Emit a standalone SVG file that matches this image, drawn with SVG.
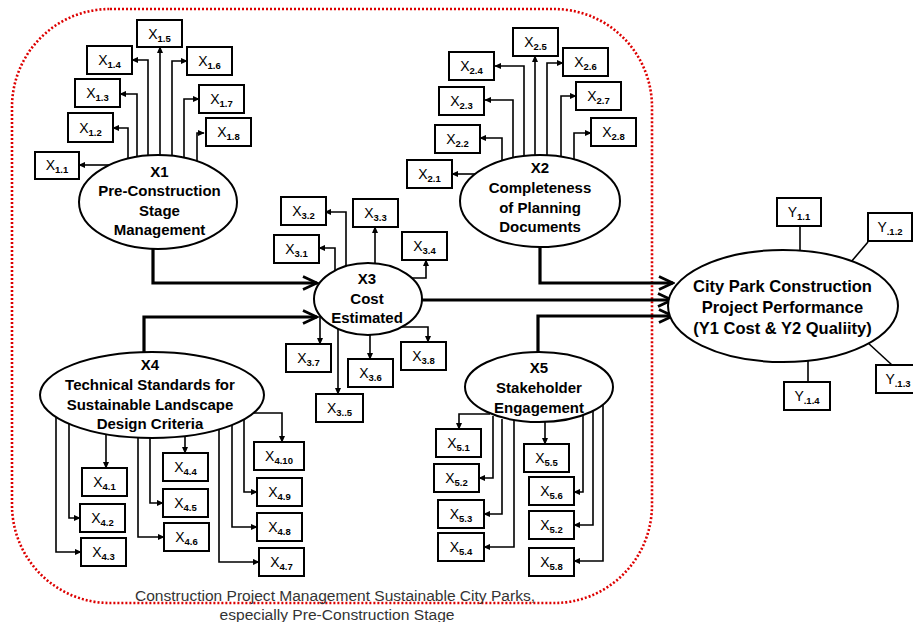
<svg xmlns="http://www.w3.org/2000/svg" width="913" height="622" viewBox="0 0 913 622">
<style>
.box rect{fill:#fff;stroke:#000;stroke-width:2}
.box text{font-family:"Liberation Sans",Arial,sans-serif;font-size:14px;text-anchor:middle;fill:#000}
.sub{font-size:9.5px;font-weight:bold}
.ell ellipse{fill:#fff;stroke:#000;stroke-width:2}
.ell text{font-family:"Liberation Sans",Arial,sans-serif;font-weight:bold;font-size:15px;text-anchor:middle;fill:#000}
.thin{fill:none;stroke:#000;stroke-width:1.6;marker-end:url(#ah)}
.thick{fill:none;stroke:#000;stroke-width:3.2;marker-end:url(#chev)}
.plain{fill:none;stroke:#000;stroke-width:1.6}
.cap{font-family:"Liberation Sans",Arial,sans-serif;font-size:14px;fill:#333;text-anchor:middle}
</style>
<defs>
<marker id="ah" viewBox="0 0 10 10" refX="9" refY="5" markerWidth="7" markerHeight="7" markerUnits="userSpaceOnUse" orient="auto"><path d="M0,0.5 L10,5 L0,9.5 z" fill="#000"/></marker>
<marker id="chev" viewBox="0 0 18 16" refX="16" refY="8" markerWidth="18" markerHeight="16" markerUnits="userSpaceOnUse" orient="auto"><path d="M2,1.5 L16,8 L2,14.5" fill="none" stroke="#000" stroke-width="2.8" stroke-linejoin="miter"/></marker>
</defs>
<rect width="913" height="622" fill="#fff"/>
<rect id="boundary" x="12" y="9" width="640" height="594" rx="98" ry="98" fill="none" stroke="#dd0000" stroke-width="2.6" stroke-dasharray="2 2"/>
<text class="cap" x="335" y="601" textLength="400" lengthAdjust="spacingAndGlyphs">Construction Project Management Sustainable City Parks,</text>
<text class="cap" x="337" y="620" textLength="235" lengthAdjust="spacingAndGlyphs">especially Pre-Construction Stage</text>

<g id="connectors">
<path class="thin" d="M110,165 H79"/>
<path class="thin" d="M128,162 V128 H113"/>
<path class="thin" d="M137,160 V94 H120"/>
<path class="thin" d="M148,158 V60 H132"/>
<path class="thin" d="M160,158 V47"/>
<path class="thin" d="M172,158 V61 H187"/>
<path class="thin" d="M184,160 V99 H199"/>
<path class="thin" d="M197,162 V133 H204"/>

<path class="thin" d="M478,174 H452"/>
<path class="thin" d="M502,162 V138 H480"/>
<path class="thin" d="M513,160 V100 H485"/>
<path class="thin" d="M524,158 V66 H495"/>
<path class="thin" d="M535,158 V56"/>
<path class="thin" d="M547,158 V63 H563"/>
<path class="thin" d="M561,160 V96 H576"/>
<path class="thin" d="M574,162 V133 H591"/>

<path class="thin" d="M335,272 V248 H319"/>
<path class="thin" d="M346,268 V212 H325"/>
<path class="thin" d="M375,266 V227"/>
<path class="thin" d="M410,278 H426 V260"/>
<path class="thin" d="M320,313 V344"/>
<path class="thin" d="M338,327 V394"/>
<path class="thin" d="M370,331 V359"/>
<path class="thin" d="M401,327 H428 V342"/>

<path class="thin" d="M106,432 V468"/>
<path class="thin" d="M69,421 V518 H80"/>
<path class="thin" d="M56,414 V552 H81"/>
<path class="thin" d="M185,434 V453"/>
<path class="thin" d="M150,436 V503 H163"/>
<path class="thin" d="M138,436 V537 H164"/>
<path class="thin" d="M250,413 H282 V442"/>
<path class="thin" d="M244,417 V492 H257"/>
<path class="thin" d="M232,423 V527 H257"/>
<path class="thin" d="M219,427 V562 H259"/>

<path class="thin" d="M490,414 H459 V429"/>
<path class="thin" d="M493,416 V478 H479"/>
<path class="thin" d="M502,419 V514 H484"/>
<path class="thin" d="M514,419 V547 H484"/>
<path class="thin" d="M545,420 V444"/>
<path class="thin" d="M583,413 V492 H574"/>
<path class="thin" d="M593,409 V525 H574"/>
<path class="thin" d="M603,403 V561 H574"/>

<path class="thick" d="M153,246 V283 H317"/>
<path class="thick" d="M144,353 V317 H317"/>
<path class="thick" d="M540,246 V283 H673"/>
<path class="thick" d="M421,300 H672"/>
<path class="thick" d="M538,353 V316 H673"/>

<path class="plain" d="M800,226 V252"/>
<path class="plain" d="M868,242 L851,262"/>
<path class="plain" d="M867,342 L892,365"/>
<path class="plain" d="M808,359 V382"/>
</g>

<g id="X1" class="ell"><ellipse cx="158" cy="202" rx="79" ry="47"/><text x="159.5" y="177">X1</text><text x="159.5" y="196">Pre-Construction</text><text x="159.5" y="216">Stage</text><text x="159.5" y="235">Management</text></g>
<g id="X2" class="ell"><ellipse cx="540" cy="201" rx="80" ry="46"/><text x="540" y="173">X2</text><text x="540" y="192.5">Completeness</text><text x="540" y="212.5">of Planning</text><text x="540" y="232">Documents</text></g>
<g id="X3" class="ell"><ellipse cx="368" cy="299" rx="54" ry="36"/><text x="367" y="284">X3</text><text x="367" y="304">Cost</text><text x="367" y="323">Estimated</text></g>
<g id="X4" class="ell"><ellipse cx="152" cy="395" rx="112" ry="43"/><text x="150" y="370">X4</text><text x="150" y="390">Technical Standards for</text><text x="150" y="410">Sustainable Landscape</text><text x="150" y="429">Design Criteria</text></g>
<g id="X5" class="ell"><ellipse cx="539" cy="387" rx="74" ry="35"/><text x="539" y="373">X5</text><text x="539" y="393">Stakeholder</text><text x="539" y="413">Engagement</text></g>
<g id="Y" class="ell"><ellipse cx="783" cy="306" rx="115" ry="56"/><text x="782.5" y="292" style="font-size:16.5px">City Park Construction</text><text x="782.5" y="313" style="font-size:16.5px">Project Performance</text><text x="782.5" y="334" style="font-size:16.5px">(Y1 Cost &amp; Y2 Qualiity)</text></g>

<g id="x1_1" class="box"><rect x="35" y="152" width="44" height="27"/><text x="57" y="170">X<tspan class="sub" dy="3">1.1</tspan></text></g>
<g id="x1_2" class="box"><rect x="68" y="113" width="45" height="29"/><text x="90.5" y="132.5">X<tspan class="sub" dy="3">1.2</tspan></text></g>
<g id="x1_3" class="box"><rect x="75" y="79" width="45" height="28"/><text x="97.5" y="98">X<tspan class="sub" dy="3">1.3</tspan></text></g>
<g id="x1_4" class="box"><rect x="87" y="46" width="45" height="28"/><text x="109.5" y="65">X<tspan class="sub" dy="3">1.4</tspan></text></g>
<g id="x1_5" class="box"><rect x="137" y="20" width="45" height="27"/><text x="159.5" y="38.5">X<tspan class="sub" dy="3">1.5</tspan></text></g>
<g id="x1_6" class="box"><rect x="187" y="47" width="45" height="28"/><text x="209.5" y="66">X<tspan class="sub" dy="3">1.6</tspan></text></g>
<g id="x1_7" class="box"><rect x="199" y="85" width="45" height="28"/><text x="221.5" y="104">X<tspan class="sub" dy="3">1.7</tspan></text></g>
<g id="x1_8" class="box"><rect x="206" y="118" width="45" height="28"/><text x="228.5" y="137">X<tspan class="sub" dy="3">1.8</tspan></text></g>

<g id="x2_1" class="box"><rect x="407" y="160" width="45" height="28"/><text x="429.5" y="179">X<tspan class="sub" dy="3">2.1</tspan></text></g>
<g id="x2_2" class="box"><rect x="435" y="125" width="45" height="28"/><text x="457.5" y="144">X<tspan class="sub" dy="3">2.2</tspan></text></g>
<g id="x2_3" class="box"><rect x="439" y="87" width="45" height="28"/><text x="461.5" y="106">X<tspan class="sub" dy="3">2.3</tspan></text></g>
<g id="x2_4" class="box"><rect x="449" y="52" width="45" height="28"/><text x="471.5" y="71">X<tspan class="sub" dy="3">2.4</tspan></text></g>
<g id="x2_5" class="box"><rect x="513" y="28" width="45" height="28"/><text x="535.5" y="47">X<tspan class="sub" dy="3">2.5</tspan></text></g>
<g id="x2_6" class="box"><rect x="563" y="48" width="45" height="28"/><text x="585.5" y="67">X<tspan class="sub" dy="3">2.6</tspan></text></g>
<g id="x2_7" class="box"><rect x="576" y="82" width="45" height="28"/><text x="598.5" y="101">X<tspan class="sub" dy="3">2.7</tspan></text></g>
<g id="x2_8" class="box"><rect x="591" y="118" width="45" height="28"/><text x="613.5" y="137">X<tspan class="sub" dy="3">2.8</tspan></text></g>

<g id="x3_1" class="box"><rect x="274" y="235" width="45" height="28"/><text x="296.5" y="254">X<tspan class="sub" dy="3">3.1</tspan></text></g>
<g id="x3_2" class="box"><rect x="281" y="197" width="45" height="28"/><text x="303.5" y="216">X<tspan class="sub" dy="3">3.2</tspan></text></g>
<g id="x3_3" class="box"><rect x="353" y="199" width="45" height="28"/><text x="375.5" y="218">X<tspan class="sub" dy="3">3.3</tspan></text></g>
<g id="x3_4" class="box"><rect x="402" y="232" width="45" height="28"/><text x="424.5" y="251">X<tspan class="sub" dy="3">3.4</tspan></text></g>
<g id="x3_7" class="box"><rect x="286" y="344" width="45" height="28"/><text x="308.5" y="363">X<tspan class="sub" dy="3">3.7</tspan></text></g>
<g id="x3_6" class="box"><rect x="348" y="359" width="45" height="28"/><text x="370.5" y="378">X<tspan class="sub" dy="3">3.6</tspan></text></g>
<g id="x3_8" class="box"><rect x="401" y="342" width="45" height="28"/><text x="423.5" y="361">X<tspan class="sub" dy="3">3.8</tspan></text></g>
<g id="x3_5" class="box"><rect x="316" y="394" width="47" height="28"/><text x="339.5" y="413">X<tspan class="sub" dy="3">3..5</tspan></text></g>

<g id="x4_1" class="box"><rect x="82" y="468" width="45" height="28"/><text x="104.5" y="487">X<tspan class="sub" dy="3">4.1</tspan></text></g>
<g id="x4_2" class="box"><rect x="80" y="504" width="45" height="28"/><text x="102.5" y="523">X<tspan class="sub" dy="3">4.2</tspan></text></g>
<g id="x4_3" class="box"><rect x="81" y="538" width="45" height="28"/><text x="103.5" y="557">X<tspan class="sub" dy="3">4.3</tspan></text></g>
<g id="x4_4" class="box"><rect x="163" y="453" width="45" height="28"/><text x="185.5" y="472">X<tspan class="sub" dy="3">4.4</tspan></text></g>
<g id="x4_5" class="box"><rect x="163" y="489" width="45" height="28"/><text x="185.5" y="508">X<tspan class="sub" dy="3">4.5</tspan></text></g>
<g id="x4_6" class="box"><rect x="164" y="523" width="45" height="28"/><text x="186.5" y="542">X<tspan class="sub" dy="3">4.6</tspan></text></g>
<g id="x4_10" class="box"><rect x="254" y="442" width="50" height="28"/><text x="279" y="461">X<tspan class="sub" dy="3">4.10</tspan></text></g>
<g id="x4_9" class="box"><rect x="257" y="478" width="45" height="28"/><text x="279.5" y="497">X<tspan class="sub" dy="3">4.9</tspan></text></g>
<g id="x4_8" class="box"><rect x="257" y="513" width="45" height="28"/><text x="279.5" y="532">X<tspan class="sub" dy="3">4.8</tspan></text></g>
<g id="x4_7" class="box"><rect x="259" y="548" width="45" height="28"/><text x="281.5" y="567">X<tspan class="sub" dy="3">4.7</tspan></text></g>

<g id="x5_1" class="box"><rect x="436" y="429" width="45" height="28"/><text x="458.5" y="448">X<tspan class="sub" dy="3">5.1</tspan></text></g>
<g id="x5_2" class="box"><rect x="434" y="464" width="45" height="28"/><text x="456.5" y="483">X<tspan class="sub" dy="3">5.2</tspan></text></g>
<g id="x5_3" class="box"><rect x="438" y="500" width="46" height="28"/><text x="461" y="519">X<tspan class="sub" dy="3">5.3</tspan></text></g>
<g id="x5_4" class="box"><rect x="438" y="533" width="46" height="28"/><text x="461" y="552">X<tspan class="sub" dy="3">5.4</tspan></text></g>
<g id="x5_5" class="box"><rect x="524" y="444" width="45" height="28"/><text x="546.5" y="463">X<tspan class="sub" dy="3">5.5</tspan></text></g>
<g id="x5_6" class="box"><rect x="529" y="477" width="45" height="28"/><text x="551.5" y="496">X<tspan class="sub" dy="3">5.6</tspan></text></g>
<g id="x5_2b" class="box"><rect x="529" y="511" width="45" height="28"/><text x="551.5" y="530">X<tspan class="sub" dy="3">5.2</tspan></text></g>
<g id="x5_8" class="box"><rect x="529" y="548" width="45" height="28"/><text x="551.5" y="567">X<tspan class="sub" dy="3">5.8</tspan></text></g>

<g id="y1_1" class="box"><rect x="777" y="198" width="44" height="28"/><text x="799" y="217">Y<tspan class="sub" dy="3">1.1</tspan></text></g>
<g id="y1_2" class="box"><rect x="868" y="213" width="44" height="28"/><text x="890" y="232">Y<tspan class="sub" dy="3">.1.2</tspan></text></g>
<g id="y1_3" class="box"><rect x="876" y="365" width="44" height="28"/><text x="898" y="384">Y<tspan class="sub" dy="3">.1.3</tspan></text></g>
<g id="y1_4" class="box"><rect x="784" y="382" width="46" height="28"/><text x="807" y="401">Y<tspan class="sub" dy="3">.1.4</tspan></text></g>
</svg>
